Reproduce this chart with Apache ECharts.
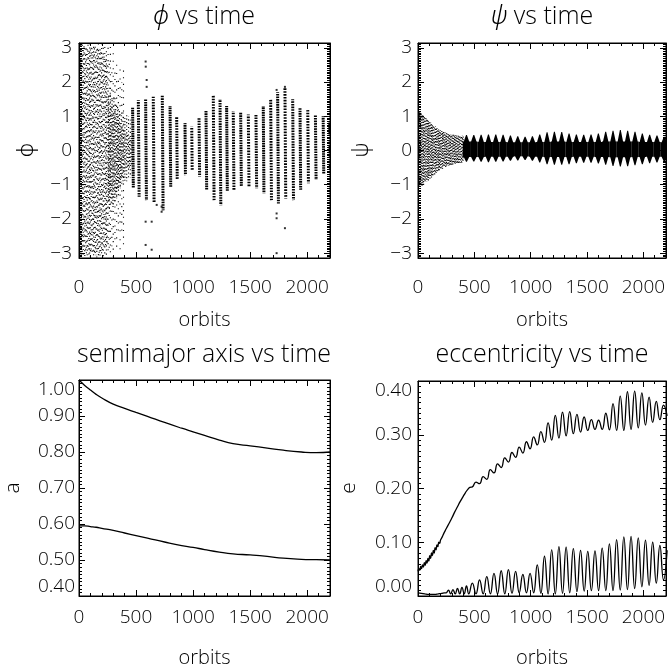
<!DOCTYPE html>
<html><head><meta charset="utf-8">
<script src="https://cdn.jsdelivr.net/npm/echarts@6/dist/echarts.min.js"></script>
<style>html,body{margin:0;padding:0;background:#fff}#c{width:668px;height:668px}</style>
</head><body><div id="c"></div><script>
// ---------- tick labels ----------
const X_LABELS = [0, 500, 1000, 1500, 2000];
const X_MINOR = [100, 200, 300, 400, 600, 700, 800, 900, 1100, 1200, 1300, 1400, 1600, 1700, 1800, 1900, 2100];
const ANG_LABELS = [-3, -2, -1, 0, 1, 2, 3];
const A_LABELS = [0.4, 0.5, 0.6, 0.7, 0.8, 0.9, 1.0];
const E_LABELS = [0, 0.1, 0.2, 0.3, 0.4];

// ---------- phi panel: [t, hi, lo, tBottom] ----------
const phiCloud = [[2,3.12,-3.1],[9,3.05,-3.13],[16,3.1,-3.0],[23,2.98,-3.12],[30,3.13,-3.05],[37,3.02,-3.1],[44,3.11,-2.95],[51,2.95,-3.13],[58,3.08,-3.0],[65,3.13,-3.08],[72,3.0,-3.12],[79,3.1,-2.9],[86,2.92,-3.1],[93,3.12,-3.05],[100,3.05,-3.13],[107,3.0,-2.95],[114,3.12,-3.1],[121,2.9,-3.04],[128,3.1,-3.12],[135,3.03,-2.98],[142,3.13,-3.1],[149,2.96,-3.06],[156,3.08,-3.13],[163,3.0,-2.92],[170,3.1,-3.1],[177,2.9,-3.0],[184,3.05,-3.12],[191,2.95,-2.95],[198,3.12,-3.08],[205,2.85,-3.0],[212,3.0,-3.1],[219,2.8,-2.9],[226,3.05,-3.05],[233,2.7,-2.85],[240,2.9,-3.1],[247,2.6,-2.8]];
const phiSparse = [[255,3.0,-3.05],[265,2.7,-2.9],[275,3.05,-3.0],[288,2.5,-2.8],[300,2.9,-3.1],[315,2.4,-2.7],[330,2.6,-3.0],[345,2.2,-2.5],[360,2.5,-2.9],[375,2.0,-2.4],[390,2.4,-2.9]];
const phiInner = [[258,1.6,-1.5],[266,1.2,-1.8],[274,1.7,-1.2],[282,1.3,-1.6],[290,1.5,-1.4],[298,1.1,-1.7],[306,1.6,-1.2],[314,1.2,-1.5],[322,1.4,-1.3],[330,1.0,-1.4],[338,1.3,-1.1],[346,0.9,-1.2],[354,1.2,-1.0],[362,0.8,-1.1],[370,1.1,-0.9],[378,0.7,-0.8],[386,1.2,-1.0],[394,0.6,-0.7],[402,1.0,-0.9],[410,0.5,-0.6],[418,1.1,-0.9],[426,0.5,-0.5],[434,1.0,-0.8],[442,0.4,-0.5],[450,0.9,-0.8],[458,0.4,-0.4]];
const phiStreaks = [[470,1.25,-1.1,476],[520,1.47,-1.35,527],[584,1.5,-1.45,591],[651,1.57,-1.54,658],[730,1.62,-1.75,737],[798,1.3,-1.06,804],[856,1.0,-0.86,861],[929,0.8,-0.72,933],[988,0.7,-0.57,992],[1052,0.94,-0.77,1057],[1113,1.18,-1.15,1119],[1177,1.6,-1.45,1184],[1236,1.5,-1.6,1243],[1294,1.3,-1.2,1300],[1352,1.15,-1.15,1358],[1417,1.1,-1.06,1423],[1484,1.05,-1.06,1490],[1551,1.05,-1.1,1557],[1615,1.3,-1.25,1621],[1680,1.5,-1.45,1687],[1741,1.7,-1.55,1748],[1805,1.85,-1.4,1812],[1873,1.5,-1.45,1880],[1937,1.25,-1.15,1943],[2005,1.18,-0.96,2011],[2072,1.05,-0.86,2078],[2140,1.0,-0.67,2145],[2198,0.9,-0.57,2203]];
const phiDots = [[584,2.6],[585,2.45],[593,2.06],[593,1.86],[637,-2.9],[584,-2.76],[584,-2.08],[637,-2.08],[724,-1.64],[724,-1.79],[681,-1.59],[1732,1.77],[1732,-1.98],[1732,-1.84],[1732,-3.0],[1805,1.86],[1805,-2.27]];

// ---------- psi panel ----------
const psiCloud = [[1,1.15,-1.05],[8,1.1,-1.0],[15,1.13,-1.06],[22,1.05,-1.02],[29,1.1,-0.98],[36,1.02,-1.04],[43,1.06,-0.95],[50,0.98,-1.0],[57,1.02,-0.92],[64,0.95,-0.96],[71,0.97,-0.88],[78,0.9,-0.92],[85,0.92,-0.85],[92,0.86,-0.88],[99,0.88,-0.8],[106,0.82,-0.84],[113,0.83,-0.76],[120,0.78,-0.8],[127,0.78,-0.72],[134,0.73,-0.75],[141,0.74,-0.68],[148,0.69,-0.7],[155,0.7,-0.65],[162,0.65,-0.66],[169,0.66,-0.61],[176,0.62,-0.62],[183,0.63,-0.58],[190,0.59,-0.59],[197,0.6,-0.55],[204,0.56,-0.56],[211,0.57,-0.52],[218,0.54,-0.53],[225,0.55,-0.5],[232,0.52,-0.5],[239,0.53,-0.48],[246,0.5,-0.48],[253,0.51,-0.46],[260,0.49,-0.46],[267,0.5,-0.45],[274,0.48,-0.44],[281,0.48,-0.43],[288,0.47,-0.43],[295,0.47,-0.42],[302,0.46,-0.42],[309,0.46,-0.41],[316,0.46,-0.4],[323,0.45,-0.4],[330,0.45,-0.39],[337,0.45,-0.39],[344,0.44,-0.38],[351,0.44,-0.38],[358,0.44,-0.37],[365,0.44,-0.37],[372,0.43,-0.36],[379,0.43,-0.36],[386,0.43,-0.35],[393,0.43,-0.35],[400,0.42,-0.34]];
// [t, peak, trough, band top, band bottom]
const psiTeeth = [[430,0.45,-0.33,0.26,-0.19],[495,0.45,-0.32,0.26,-0.19],[560,0.46,-0.33,0.25,-0.19],[625,0.47,-0.34,0.25,-0.18],[690,0.47,-0.33,0.25,-0.18],[755,0.46,-0.32,0.25,-0.18],[820,0.44,-0.3,0.24,-0.18],[885,0.42,-0.29,0.24,-0.17],[950,0.4,-0.28,0.24,-0.17],[1015,0.42,-0.3,0.24,-0.18],[1080,0.47,-0.35,0.25,-0.18],[1145,0.53,-0.4,0.25,-0.19],[1210,0.55,-0.42,0.26,-0.19],[1275,0.54,-0.42,0.26,-0.19],[1340,0.5,-0.4,0.25,-0.19],[1405,0.47,-0.37,0.25,-0.18],[1470,0.46,-0.36,0.25,-0.18],[1535,0.47,-0.36,0.25,-0.18],[1600,0.5,-0.38,0.25,-0.19],[1665,0.55,-0.42,0.26,-0.19],[1730,0.58,-0.45,0.26,-0.2],[1795,0.6,-0.47,0.26,-0.2],[1860,0.58,-0.46,0.26,-0.2],[1925,0.55,-0.43,0.26,-0.19],[1990,0.5,-0.4,0.25,-0.19],[2055,0.46,-0.37,0.25,-0.18],[2120,0.44,-0.35,0.25,-0.18],[2185,0.4,-0.33,0.24,-0.18]];

// ---------- semimajor axis ----------
const aT = [0, 50, 100, 150, 200, 300, 400, 500, 600, 750, 900, 1000, 1100, 1230, 1350, 1500, 1650, 1790, 1950, 2080, 2200];
const aOuter = [1.000, 0.985, 0.972, 0.960, 0.950, 0.933, 0.921, 0.910, 0.899, 0.882, 0.866, 0.856, 0.846, 0.833, 0.823, 0.817, 0.811, 0.805, 0.800, 0.798, 0.800];
const aInner = [0.595, 0.595, 0.593, 0.591, 0.588, 0.582, 0.575, 0.568, 0.561, 0.550, 0.540, 0.535, 0.529, 0.522, 0.517, 0.514, 0.510, 0.505, 0.502, 0.501, 0.500];

// ---------- eccentricity [t, e] ----------
const eccOuter = [[0,0.046],[8,0.051],[16,0.048],[24,0.055],[32,0.051],[40,0.058],[48,0.054],[56,0.062],[64,0.057],[72,0.066],[80,0.061],[88,0.070],[96,0.065],[104,0.075],[112,0.070],[120,0.080],[128,0.075],[136,0.085],[144,0.080],[152,0.090],[160,0.086],[168,0.095],[176,0.092],[184,0.100],[192,0.098],[200,0.104],[215,0.110],[230,0.117],[250,0.125],[275,0.135],[300,0.145],[325,0.156],[350,0.166],[375,0.176],[400,0.185],[420,0.192],[440,0.198],[460,0.202],[482,0.203],[514,0.212],[546,0.209],[578,0.222],[610,0.217],[642,0.235],[674,0.229],[706,0.246],[738,0.239],[770,0.257],[802,0.249],[834,0.267],[866,0.258],[898,0.277],[930,0.266],[962,0.287],[994,0.274],[1026,0.296],[1058,0.281],[1090,0.306],[1122,0.286],[1154,0.322],[1186,0.290],[1218,0.336],[1250,0.294],[1282,0.342],[1314,0.298],[1346,0.343],[1378,0.302],[1410,0.338],[1442,0.305],[1474,0.333],[1506,0.308],[1538,0.328],[1570,0.310],[1602,0.327],[1634,0.310],[1666,0.340],[1698,0.309],[1730,0.358],[1762,0.308],[1794,0.372],[1826,0.308],[1858,0.380],[1890,0.310],[1922,0.381],[1954,0.313],[1986,0.378],[2018,0.318],[2050,0.370],[2082,0.323],[2114,0.362],[2146,0.328],[2178,0.355],[2210,0.335]];
const eccInner = [[0,0.006],[30,0.005],[60,0.004],[90,0.003],[120,0.003],[150,0.003],[180,0.004],[210,0.005],[235,0.006],[250,0.006],[270,0.011],[290,0.004],[310,0.012],[330,0.004],[350,0.014],[370,0.004],[390,0.016],[410,0.004],[430,0.019],[450,0.004],[482,0.024],[514,0.004],[546,0.030],[578,0.004],[610,0.036],[642,0.004],[674,0.042],[706,0.004],[738,0.047],[770,0.004],[802,0.049],[834,0.005],[866,0.046],[898,0.006],[930,0.040],[962,0.006],[994,0.042],[1026,0.006],[1058,0.058],[1090,0.005],[1122,0.074],[1154,0.004],[1186,0.086],[1218,0.004],[1250,0.092],[1282,0.005],[1314,0.091],[1346,0.006],[1378,0.088],[1410,0.008],[1442,0.085],[1474,0.009],[1506,0.083],[1538,0.010],[1570,0.084],[1602,0.010],[1634,0.089],[1666,0.010],[1698,0.097],[1730,0.010],[1762,0.105],[1794,0.011],[1826,0.110],[1858,0.012],[1890,0.111],[1922,0.014],[1954,0.108],[1986,0.017],[2018,0.104],[2050,0.020],[2082,0.100],[2114,0.024],[2146,0.094],[2178,0.030],[2210,0.085]];

// ---------- helpers ----------
const FONT = '"Open Sans", "DejaVu Sans", sans-serif';
const GREEK = '"Noto Sans", "DejaVu Sans", sans-serif';
const BLACK = '#000';
function steps(a, b, n) { const out = []; for (let i = a; i <= b; i++) out.push(i / n); return out; }
const ANG_MINOR = steps(-62, 62, 20);
const A_MINOR = steps(40, 100, 100);
const E_MINOR = steps(0, 40, 100);

const grids = [
  { left: 79, top: 43, width: 251, height: 215 },
  { left: 418, top: 43, width: 248, height: 215 },
  { left: 79, top: 380, width: 251, height: 216 },
  { left: 418, top: 381, width: 248, height: 215 }
];
const txt = (size) => ({ color: BLACK, fontFamily: FONT, fontWeight: 300, fontSize: size });

function xAxes(g, margin) {
  const base = { type: 'value', gridIndex: g, min: 0, max: 2200, splitLine: { show: false },
    axisLine: { show: true, onZero: false, lineStyle: { color: BLACK, width: 1 } } };
  const maj = { show: true, inside: true, length: 6, customValues: X_LABELS, lineStyle: { color: BLACK, width: 1 } };
  const min = { show: true, inside: true, length: 3, customValues: X_MINOR, lineStyle: { color: BLACK, width: 1 } };
  return [
    Object.assign({}, base, { position: 'bottom', axisTick: maj,
      axisLabel: Object.assign({ show: true, customValues: X_LABELS, margin: margin, formatter: (v) => String(v) }, txt(19)),
      name: 'orbits', nameLocation: 'middle', nameGap: 52, nameTextStyle: txt(20) }),
    Object.assign({}, base, { position: 'bottom', axisLine: { show: false, onZero: false }, axisTick: min, axisLabel: { show: false } }),
    Object.assign({}, base, { position: 'top', axisTick: maj, axisLabel: { show: false } }),
    Object.assign({}, base, { position: 'top', axisLine: { show: false, onZero: false }, axisTick: min, axisLabel: { show: false } })
  ];
}
function yAxes(g, lo, hi, labels, minor, fmt, margin, alignEnds) {
  const base = { type: 'value', gridIndex: g, min: lo, max: hi, splitLine: { show: false },
    axisLine: { show: true, onZero: false, lineStyle: { color: BLACK, width: 1 } } };
  const maj = { show: true, inside: true, length: 6, customValues: labels, lineStyle: { color: BLACK, width: 1 } };
  const mn = { show: true, inside: true, length: 3, customValues: minor, lineStyle: { color: BLACK, width: 1 } };
  const lab = Object.assign({ show: true, customValues: labels, margin: margin, formatter: fmt }, txt(19));
  if (alignEnds) { lab.verticalAlignMinLabel = 'bottom'; lab.verticalAlignMaxLabel = 'top'; }
  return [
    Object.assign({}, base, { position: 'left', axisTick: maj, axisLabel: lab }),
    Object.assign({}, base, { position: 'left', axisLine: { show: false, onZero: false }, axisTick: mn, axisLabel: { show: false } }),
    Object.assign({}, base, { position: 'right', axisTick: maj, axisLabel: { show: false } }),
    Object.assign({}, base, { position: 'right', axisLine: { show: false, onZero: false }, axisTick: mn, axisLabel: { show: false } })
  ];
}
const angFmt = (v) => (v < 0 ? '\u2212' + (-v) : String(v));
const decFmt = (v) => v.toFixed(2);

function dottedLines(width, dot, gap, spread) {
  return function (params, api) {
    const t = api.value(0), hi = api.value(1), lo = api.value(2);
    let t2 = api.value(3);
    if (t2 == null || isNaN(t2)) t2 = t;
    const a = api.coord([t, hi]);
    const b = api.coord([t2, lo]);
    const f = (params.dataIndex * 0.618034) % 1;
    const g = gap + spread * f;
    return { type: 'line', shape: { x1: a[0], y1: a[1], x2: b[0], y2: b[1] },
      style: { stroke: BLACK, lineWidth: width, lineDash: [dot, g], lineDashOffset: f * (dot + g) * 3.7, fill: null } };
  };
}
function teeth(params, api) {
  const t = api.value(0), hi = api.value(1), lo = api.value(2), bh = api.value(3), bl = api.value(4);
  const pts = [[t - 33, bh], [t - 24, bh], [t - 4, hi], [t + 4, hi], [t + 24, bh], [t + 33, bh],
               [t + 33, bl], [t + 24, bl], [t + 4, lo], [t - 4, lo], [t - 24, bl], [t - 33, bl]]
    .map((p) => api.coord(p));
  return { type: 'polygon', shape: { points: pts }, style: { fill: BLACK } };
}
function custom(g, data, render, dims) {
  return { type: 'custom', xAxisIndex: g * 4, yAxisIndex: g * 4, data: data, renderItem: render, clip: true,
    silent: true, encode: { x: 0, y: 1 }, dimensions: dims };
}
function curve(g, data) {
  return { type: 'line', xAxisIndex: g * 4, yAxisIndex: g * 4, data: data, showSymbol: false, smooth: 0.5,
    silent: true, lineStyle: { color: BLACK, width: 1.3 }, clip: true };
}
const zip = (xs, ys) => xs.map((x, i) => [x, ys[i]]);

const titleRich = { g: { fontStyle: 'italic', fontFamily: GREEK, fontWeight: 300, fontSize: 25, color: BLACK } };
function title(text, cx, top) {
  return { text: text, left: cx, top: top, textAlign: 'center', padding: 0,
    textStyle: Object.assign(txt(25), { rich: titleRich }) };
}
// rotated y-axis titles
function yName(text, x, y, family) {
  return { type: 'text', x: x, y: y, rotation: Math.PI / 2, silent: true,
    style: { text: text, fontSize: 21, fontWeight: 300, fontFamily: family, fill: BLACK, align: 'center', verticalAlign: 'middle' } };
}

const option = {
  animation: false,
  backgroundColor: '#fff',
  title: [
    title('{g|\u03D5} vs time', 204, 4),
    title('{g|\u03C8} vs time', 542, 4),
    title('semimajor axis vs time', 204, 342),
    title('eccentricity vs time', 542, 342)
  ],
  graphic: [
    yName('\u03D5', 27, 150, GREEK),
    yName('\u03C8', 362, 150, GREEK),
    yName('a', 13, 488, FONT),
    yName('e', 349, 488, FONT)
  ],
  grid: grids.map((g) => Object.assign({ show: true, borderColor: BLACK, borderWidth: 1, backgroundColor: 'transparent',
    containLabel: false, outerBoundsMode: 'none' }, g)),
  xAxis: [].concat(xAxes(0, 20), xAxes(1, 20), xAxes(2, 12), xAxes(3, 12)),
  yAxis: [].concat(
    yAxes(0, -Math.PI, Math.PI, ANG_LABELS, ANG_MINOR, angFmt, 7, false),
    yAxes(1, -Math.PI, Math.PI, ANG_LABELS, ANG_MINOR, angFmt, 6, false),
    yAxes(2, 0.4, 1.0, A_LABELS, A_MINOR, decFmt, 4, true),
    yAxes(3, 0, 0.4, E_LABELS, E_MINOR, decFmt, 6, true)
  ),
  series: [
    custom(0, phiCloud, dottedLines(1.1, 1.1, 3.0, 2.5), ['t', 'hi', 'lo']),
    custom(0, phiSparse, dottedLines(1.1, 1.1, 5, 3), ['t', 'hi', 'lo']),
    custom(0, phiInner, dottedLines(1.1, 1.1, 1.8, 1.5), ['t', 'hi', 'lo']),
    custom(0, phiStreaks, dottedLines(3, 1.6, 0.7, 0.6), ['t', 'hi', 'lo', 't2']),
    { type: 'scatter', xAxisIndex: 0, yAxisIndex: 0, data: phiDots, symbol: 'rect', symbolSize: 2,
      itemStyle: { color: BLACK }, silent: true },
    custom(1, psiCloud, dottedLines(1.1, 1.1, 1.2, 1.2), ['t', 'hi', 'lo']),
    custom(1, psiTeeth, teeth, ['t', 'hi', 'lo', 'bh', 'bl']),
    curve(2, zip(aT, aOuter)),
    curve(2, zip(aT, aInner)),
    curve(3, eccOuter),
    curve(3, eccInner)
  ]
};
const chart = echarts.init(document.getElementById('c'), null, { renderer: 'canvas' });
chart.setOption(option);
</script></body></html>
